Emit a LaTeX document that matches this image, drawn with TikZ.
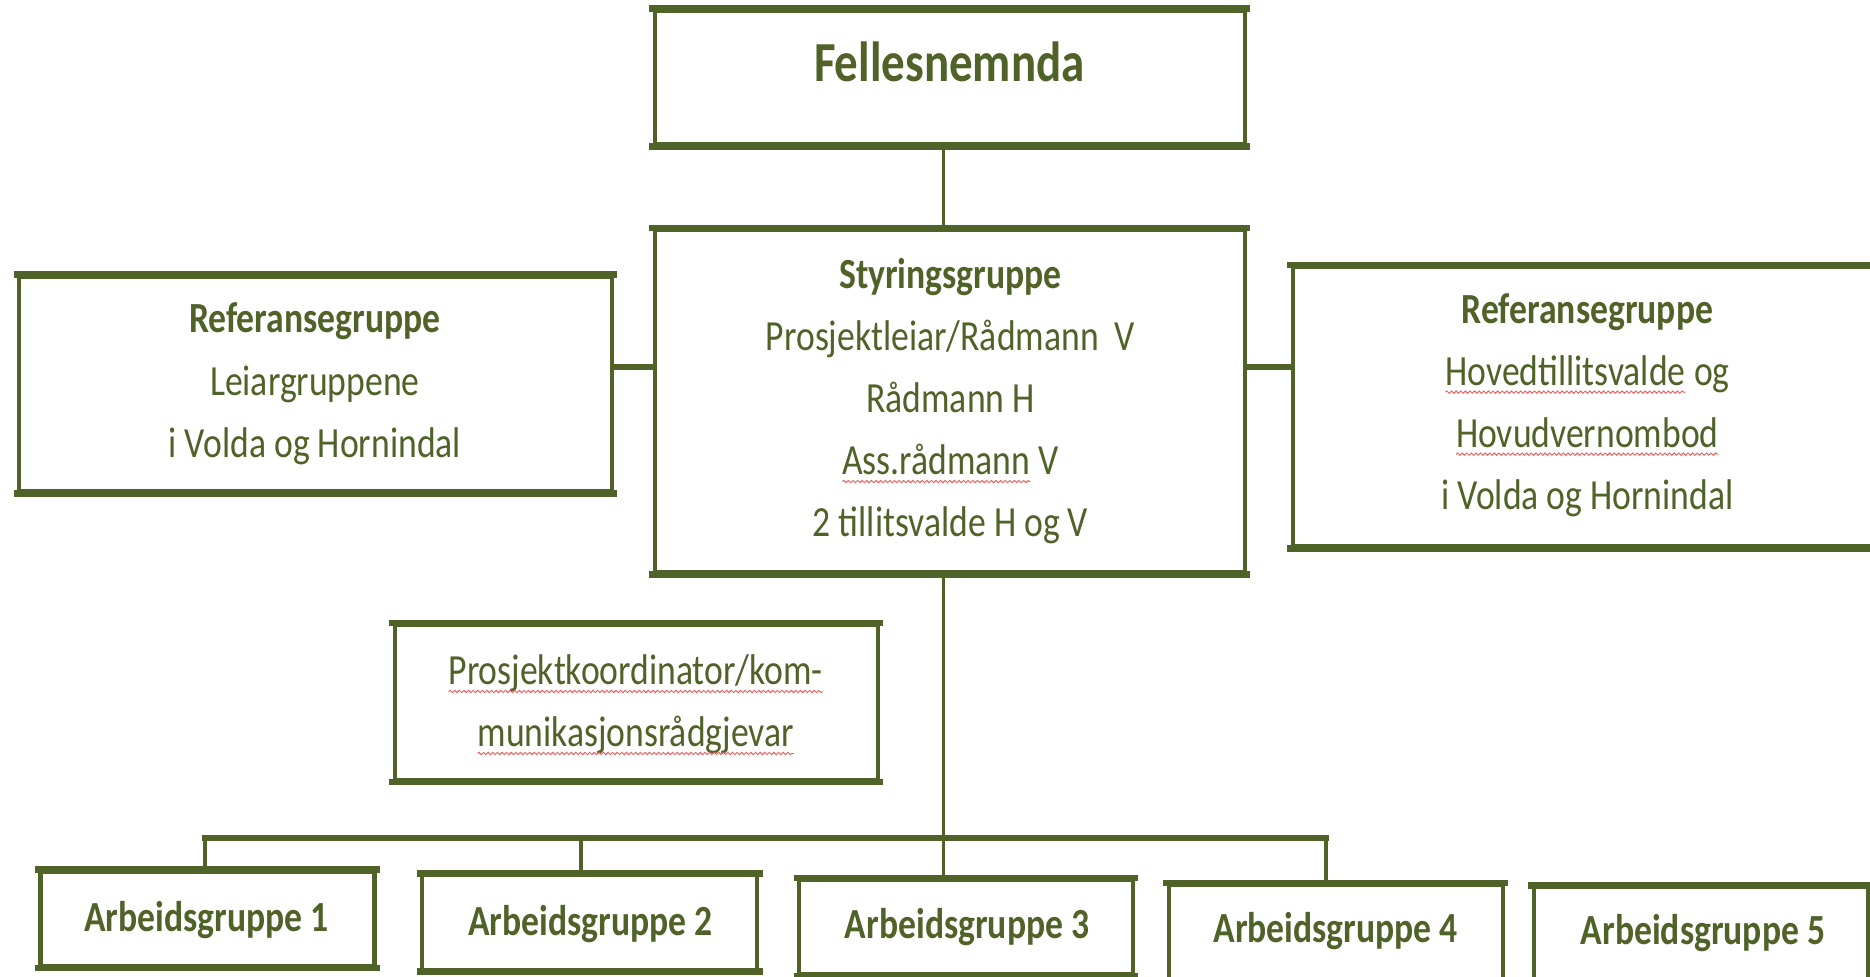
\documentclass[tikz,border=0pt]{standalone}
\usepackage{fontspec}
\setmainfont[FakeStretch=0.83]{Carlito}
\usetikzlibrary{decorations.pathmorphing}
\definecolor{ogreen}{RGB}{79,98,40}
\definecolor{squigc}{RGB}{235,95,95}
\newcommand\nf{\fontsize{20.5}{24}\selectfont}
\newcommand\bigf{\fontsize{27}{32}\selectfont\bfseries}
\newcommand\squig[1]{\tikz[baseline=(sq.base)]{\node[inner sep=0pt,outer sep=0pt] (sq) {#1};\draw[squigc, line width=0.45pt, decorate, decoration={snake, amplitude=0.55pt, segment length=2.2pt}] ([yshift=-3.3pt]sq.base west) -- ([yshift=-3.3pt]sq.base east);}}
\tikzset{
  box/.style 2 args={draw=ogreen, line width=0.07cm, minimum width=#1*0.02cm, minimum height=#2*0.02cm, inner sep=0pt},
  tx/.style={anchor=base, inner sep=0pt, text=ogreen, font=\nf},
  tb/.style={tx, font=\nf\bfseries},
  hedge/.style={draw=ogreen, line width=0.11cm, line cap=rect},
  vcon/.style={draw=ogreen, line width=0.06cm},
  hcon/.style={draw=ogreen, line width=0.1cm},
}
\begin{document}
\begin{tikzpicture}[x=0.02cm, y=-0.02cm]
\useasboundingbox[fill=white] (0,0) rectangle (1568,819);
% boxes
\node[box={495}{112}] (fell) at (796.5,65) {};
\node[box={495}{287}] (sty) at (796.5,336.5) {};
\node[box={497}{180}] (refL) at (264.5,322) {};
\node[box={506}{234}] (refR) at (1337,341) {};
\node[box={405}{130}] (koord) at (533.5,589) {};
\node[box={280}{79}] (ag1) at (174,770.5) {};
\node[box={281}{79}] (ag2) at (494.5,773.5) {};
\node[box={280}{79}] (ag3) at (810,777.5) {};
\node[box={280}{79}] (ag4) at (1120,781.5) {};
\node[box={280}{79}] (ag5) at (1426,783.5) {};
\foreach \n in {fell,sty,refL,refR,koord,ag1,ag2,ag3,ag4,ag5}
  \draw[hedge] (\n.north west) -- (\n.north east) (\n.south west) -- (\n.south east);
% connectors
\coordinate (cx) at (791,0);
\coordinate (cy) at (0,308);
\coordinate (b1) at (172,703);
\coordinate (b2) at (487,703);
\coordinate (b4) at (1112,703);
\draw[vcon] (fell.south -| cx) -- (sty.north -| cx);
\draw[vcon] (sty.south -| cx) -- (ag3.north -| cx);
\draw[hcon] (refL.east |- cy) -- (sty.west |- cy);
\draw[hcon] (sty.east |- cy) -- (refR.west |- cy);
\draw[hcon, line cap=rect] (b1) -- (b4);
\draw[vcon] (b1) -- (b1 |- ag1.north);
\draw[vcon] (b2) -- (b2 |- ag2.north);
\draw[vcon] (b4) -- (b4 |- ag4.north);
% texts
\node[tx, font=\bigf] (tfell) at (796,68) {Fellesnemnda};
\node[tb] (s1) at (797,242) {Styringsgruppe};
\node[tx] (s2) at (797,294) {Prosjektleiar/Rådmann\ \ V};
\node[tx] (s3) at (797,346) {Rådmann H};
\node[tx] (s4) at (797,398) {\squig{Ass.rådmann} V};
\node[tx] (s5) at (797,450) {2 tillitsvalde H og V};
\node[tb] (l1) at (264,279) {Referansegruppe};
\node[tx] (l2) at (264,332) {Leiargruppene};
\node[tx] (l3) at (264,384) {i Volda og Hornindal};
\node[tb] (r1) at (1331,271) {Referansegruppe};
\node[tx] (r2) at (1331,323) {\squig{Hovedtillitsvalde} og};
\node[tx] (r3) at (1331,375) {\squig{Hovudvernombod}};
\node[tx] (r4) at (1331,427) {i Volda og Hornindal};
\node[tx] (k1) at (533,574) {\squig{Prosjektkoordinator/kom-}};
\node[tx] (k2) at (533,626) {\squig{munikasjonsrådgjevar}};
\node[tb] (a1) at (173,781) {Arbeidsgruppe 1};
\node[tb] (a2) at (495,784) {Arbeidsgruppe 2};
\node[tb] (a3) at (811,787) {Arbeidsgruppe 3};
\node[tb] (a4) at (1120,790) {Arbeidsgruppe 4};
\node[tb] (a5) at (1428,792) {Arbeidsgruppe 5};
\end{tikzpicture}
\end{document}
